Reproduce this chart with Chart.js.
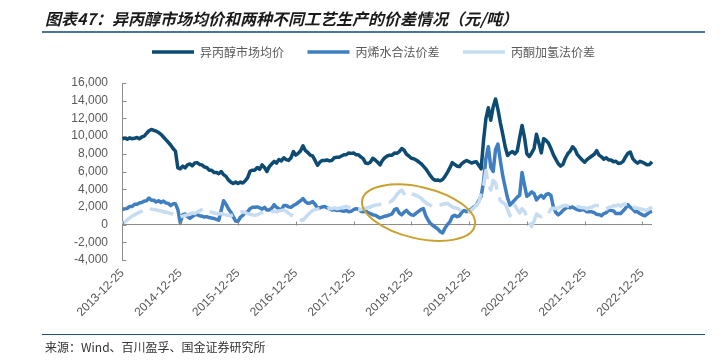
<!DOCTYPE html>
<html>
<head>
<meta charset="utf-8">
<script src="https://cdn.jsdelivr.net/npm/chart.js@4.4.0/dist/chart.umd.min.js"></script>
<style>
html,body{margin:0;padding:0;background:#fff;}
#wrap{position:relative;width:727px;height:360px;overflow:hidden;background:#fff;}
#c{position:absolute;left:0;top:0;}
#title{position:absolute;left:45px;top:6px;font:italic bold 16px "Noto Sans CJK SC";color:#1a1a1a;white-space:nowrap;line-height:24px;}
#tline{position:absolute;left:42px;top:31px;width:663px;height:2px;background:#4a7595;}
#fline{position:absolute;left:42px;top:334px;width:663px;height:1px;background:#1f4e79;}
#src{position:absolute;left:45px;top:338px;font:12px "Noto Sans CJK SC";color:#333;line-height:18px;white-space:nowrap;}
</style>
</head>
<body>
<div id="wrap">
<canvas id="c" width="727" height="360"></canvas>
<div id="title">图表47：异丙醇市场均价和两种不同工艺生产的价差情况（元/吨）</div>
<div id="tline"></div>
<div id="fline"></div>
<div id="src">来源：Wind、百川盈孚、国金证券研究所</div>
</div>
<script>
// ---- data (元/吨), half-monthly samples from 2013-12-25 ----
const seriesNames = ['异丙醇市场均价', '丙烯水合法价差', '丙酮加氢法价差'];
const tickLabels = ['2013-12-25','2014-12-25','2015-12-25','2016-12-25','2017-12-25','2018-12-25','2019-12-25','2020-12-25','2021-12-25','2022-12-25'];

const marketPrice = [
9700,9800,9650,9800,9700,9750,9850,9700,9900,10000,10300,10600,10750,10650,10550,10400,10200,9900,9600,9300,9000,8600,8300,6400,
6300,6600,6400,6750,6850,6650,6950,7000,6800,6750,6500,6450,6150,6150,5900,5900,5750,6000,5650,5450,5050,4800,4650,4800,
4650,4800,4700,4950,5300,6050,6150,6150,6450,6250,6750,6450,6000,6550,6850,7150,6950,7350,7200,7550,7350,7250,7550,8250,
7850,8050,8350,8900,8350,8150,7850,7750,7250,6700,7050,7250,7250,7300,7200,7250,7550,7600,7600,7750,7900,7900,8100,8050,
8100,7900,7900,7650,7450,6950,6900,7050,7500,7300,7050,6750,7250,7550,7750,7850,7850,8100,8050,8250,8600,8400,7950,7750,
7500,7450,7300,7100,6900,6600,6300,5900,5500,5150,5000,5050,4950,5100,5450,5900,6400,7000,6800,6600,6550,6900,7100,7250,
7100,6950,7050,7100,6700,6300,9500,12000,13200,11800,13300,14200,13000,11500,10200,8800,7800,8100,8250,8000,8300,9800,11200,9900,
8000,7700,8100,8600,10200,9200,8100,9700,9500,9200,8600,7900,7400,6900,6600,6800,7500,8000,8300,8800,8500,7900,7600,7300,
7050,7350,7550,7750,7950,8350,7850,7650,7400,7550,7300,7300,7100,7150,6900,6950,7150,7650,8050,8200,7450,7150,6950,7150,
7050,6900,6750,6800,7100
];

const propyleneSpread = [
1700,1800,1850,2050,2050,2300,2300,2450,2500,2650,2700,3000,2750,2750,2550,2700,2500,2650,2450,2400,2150,2350,2350,1700,
200,1100,1200,900,700,900,1100,1150,1000,950,850,900,800,750,700,600,500,1600,2700,2300,1800,1400,900,400,
350,850,1050,1350,1450,1800,1950,1950,2000,1900,1750,1950,1650,1650,1850,2250,1950,1800,1650,2150,2150,2000,1950,2150,
2300,2500,2700,2950,2600,2400,2450,2600,2300,1850,1900,2000,2050,1900,1800,1650,1700,1600,1650,1550,1500,1600,1450,1500,
1700,1800,1750,1500,1450,1550,1350,1250,1100,1050,900,750,850,950,1000,1100,1200,1700,1800,1300,1100,1400,1600,1300,
1100,1050,1300,1500,1700,1800,1000,500,100,-100,-300,-500,-800,-950,-400,0,300,900,1050,900,1000,1400,1600,1450,
1600,1750,2000,2200,2700,3200,4800,7500,8800,6500,6000,8500,9100,7200,5500,4200,3000,2200,2500,2800,3100,3300,5900,4500,
3200,3400,3700,3500,2800,3100,3300,3000,3400,3500,3300,2000,1400,1100,1300,1600,1800,2000,1900,2000,1800,1700,1600,1700,
1650,1450,1450,1450,1350,1150,1150,1000,1250,1350,1650,1600,1550,1250,1250,1250,1550,1850,2250,1950,1750,1450,1450,1250,
1100,1000,1200,1400,1500
];

const acetoneSpread = [
100,300,550,750,950,1100,1250,1400,1500,1650,1800,1850,1750,1700,1650,1600,1550,1450,1400,1350,1250,1200,1100,950,
850,950,1050,1100,1200,1300,1250,1400,1550,1700,1800,1750,1500,1400,1300,1250,1200,1250,1150,1100,1050,1000,1100,1200,
1300,1400,1450,1350,1250,1150,1100,1050,1100,1250,1350,1450,1400,1350,1450,1500,1450,1550,1600,1650,1500,1300,1100,950,
850,700,550,500,800,1100,1350,1600,1700,1750,1800,1850,1800,1750,1850,1800,1900,1800,1850,1900,2000,2050,1950,1900,
1800,1700,1650,1700,1800,1850,1900,2000,2100,2200,2250,2300,2400,2500,2600,2550,2700,3000,3400,3700,3900,3500,3200,3300,
3500,3400,3300,3150,3000,2700,2500,2300,2150,2000,2050,2150,2200,2300,2350,2400,2200,2000,1900,1850,1700,1500,1300,1250,
1450,1650,1900,2200,2500,3500,4400,6100,4500,3900,5000,4700,3500,2700,2500,2300,1700,1000,1500,2200,1700,1300,1800,1500,
900,300,-200,400,1200,1000,900,1100,1300,1250,1800,1850,1800,1900,2000,2100,2200,2100,2050,2000,1950,2050,1950,1900,
1900,1750,1950,1950,2150,2150,2150,1900,1900,1750,1950,1950,2150,2100,2250,2050,2300,2300,2450,2250,2150,1850,1850,1800,
1700,1650,1600,1800,2000
];

// category dates: 2013-12-25 then 10th and 25th of each month
const dates = ['2013-12-25'];
for (let y = 2014; y <= 2023 && dates.length < marketPrice.length; y++) {
  for (let m = 1; m <= 12 && dates.length < marketPrice.length; m++) {
    for (const d of [10, 25]) {
      if (dates.length < marketPrice.length) dates.push(y + '-' + String(m).padStart(2, '0') + '-' + d);
    }
  }
}

// highlight ellipse, in data units (category index / value)
const highlight = { centerIndex: 123, centerValue: 1350, halfIndex: 24, halfValue: 2900, tilt: 0.23 };

const AXIS = '#8c8c8c';
const decor = {
  id: 'decor',
  afterDatasetsDraw(chart) {
    const { ctx, scales: { x, y }, chartArea: a } = chart;
    ctx.save();
    ctx.strokeStyle = AXIS; ctx.lineWidth = 1;
    ctx.beginPath();
    y.ticks.forEach(t => {
      const py = Math.round(y.getPixelForValue(t.value)) + 0.5;
      ctx.moveTo(a.left, py); ctx.lineTo(a.left + 4, py);
    });
    const y0 = Math.round(y.getPixelForValue(0)) + 0.5;
    x.ticks.forEach(t => {
      const px = Math.round(x.getPixelForValue(t.value)) + 0.5;
      ctx.moveTo(px, y0); ctx.lineTo(px, y0 - 4);
    });
    ctx.stroke();
    const cx = x.getPixelForValue(highlight.centerIndex);
    const cy = y.getPixelForValue(highlight.centerValue);
    const rx = Math.abs(x.getPixelForValue(highlight.centerIndex + highlight.halfIndex) - cx);
    const ry = Math.abs(y.getPixelForValue(highlight.centerValue + highlight.halfValue) - cy);
    ctx.strokeStyle = '#c9a12e'; ctx.lineWidth = 2;
    ctx.beginPath();
    ctx.ellipse(cx, cy, rx, ry, highlight.tilt, 0, Math.PI * 2);
    ctx.stroke();
    ctx.restore();
  }
};

const lab = '#595959';
new Chart(document.getElementById('c'), {
  type: 'line',
  data: {
    labels: dates,
    datasets: [
      { label: seriesNames[0], data: marketPrice, borderColor: '#0d4b73', backgroundColor: '#0d4b73', borderWidth: 3.5, order: 3 },
      { label: seriesNames[1], data: propyleneSpread, borderColor: '#3f7fc1', backgroundColor: '#3f7fc1', borderWidth: 3.5, order: 2 },
      { label: seriesNames[2], data: acetoneSpread, borderColor: '#c6dcf0', backgroundColor: '#c6dcf0', borderWidth: 3.5, borderDash: [24, 8], order: 1 }
    ]
  },
  options: {
    responsive: false,
    animation: false,
    devicePixelRatio: 1,
    elements: { point: { radius: 0 }, line: { tension: 0, borderJoinStyle: 'round' } },
    layout: { padding: { left: 20, right: 0, top: 22.5, bottom: 0 } },
    plugins: {
      tooltip: { enabled: false },
      legend: {
        position: 'top',
        align: 'center',
        labels: {
          font: { size: 12, family: '"Noto Sans CJK SC"' },
          color: lab,
          usePointStyle: true,
          pointStyle: 'line',
          pointStyleWidth: 42,
          padding: 23.5,
          sort: (a, b) => a.datasetIndex - b.datasetIndex
        }
      }
    },
    scales: {
      x: {
        type: 'category',
        position: 'bottom',
        offset: false,
        grid: { display: false, drawTicks: false },
        border: { display: false },
        ticks: {
          autoSkip: false, maxRotation: 45, minRotation: 45, padding: 6,
          color: lab, font: { size: 12, family: '"Liberation Sans"' }
        },
        afterBuildTicks(s) { s.ticks = s.ticks.filter(t => tickLabels.includes(dates[t.value])); },
        afterFit(s) { s.height = 100; }
      },
      xTop: {
        type: 'linear', position: 'top', display: true,
        grid: { display: false, drawTicks: false }, border: { display: false }, ticks: { display: false },
        afterFit(s) { s.height = 15; }
      },
      y: {
        type: 'linear', position: 'left',
        min: -4000, max: 16000,
        ticks: { stepSize: 2000, padding: 14.5, color: lab, font: { size: 12, family: '"Liberation Sans"' } },
        grid: { drawTicks: false, color: c => (c.tick && c.tick.value === 0) ? AXIS : 'rgba(0,0,0,0)', lineWidth: 1 },
        border: { display: true, color: AXIS, width: 1 },
        afterFit(s) { s.width = 102.5; }
      },
      yRight: {
        type: 'linear', position: 'right', display: true,
        grid: { display: false, drawTicks: false }, border: { display: false }, ticks: { display: false },
        afterFit(s) { s.width = 75; }
      }
    }
  },
  plugins: [decor]
});
</script>
</body>
</html>
